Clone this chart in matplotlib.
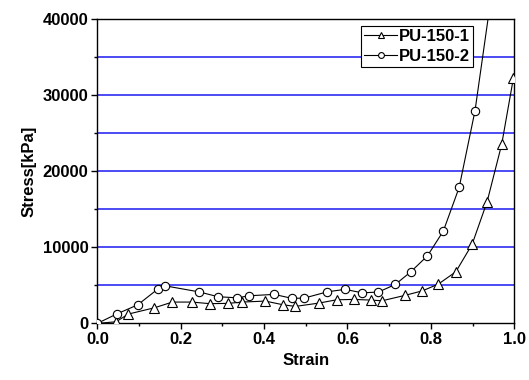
import matplotlib
matplotlib.use("Agg")
import matplotlib.pyplot as plt
from matplotlib.ticker import MultipleLocator

plt.rcParams['font.family'] = ['Liberation Sans', 'DejaVu Sans']
plt.rcParams['font.weight'] = 'bold'

strain1 = [0.0, 0.045, 0.074, 0.137, 0.18, 0.227, 0.27, 0.314, 0.347, 0.403, 0.446, 0.475,
           0.532, 0.574, 0.616, 0.656, 0.683, 0.738, 0.780, 0.818, 0.860, 0.899, 0.935, 0.970, 0.998]
stress1 = [0, 210, 1220, 2050, 2800, 2800, 2590, 2630, 2800, 2930, 2440, 2230,
           2670, 3100, 3150, 3060, 2970, 3680, 4280, 5160, 6780, 10380, 15980, 23520, 32190]

strain2 = [0.0, 0.046, 0.097, 0.145, 0.162, 0.243, 0.290, 0.335, 0.365, 0.424, 0.467, 0.496,
           0.552, 0.594, 0.635, 0.674, 0.715, 0.752, 0.792, 0.830, 0.868, 0.906, 0.945]
stress2 = [0, 1220, 2440, 4510, 4940, 4150, 3500, 3360, 3630, 3810, 3290, 3320,
           4150, 4470, 4020, 4110, 5120, 6780, 8880, 12130, 17870, 27940, 43000]

labels = ['PU-150-1', 'PU-150-2']
x_label = 'Strain'
y_label = 'Stress[kPa]'

fig = plt.figure(figsize=(5.29, 3.8), dpi=100)
ax = fig.add_axes([0.184, 0.149, 0.788, 0.801])

for yv in range(5000, 40000, 5000):
    ax.axhline(yv, color='#2c2cf2', lw=1.2, zorder=1)

ax.plot(strain1, stress1, color='black', lw=0.8, marker='^', ms=6.5, mfc='white',
        mec='black', mew=0.8, label=labels[0], zorder=3)
ax.plot(strain2, stress2, color='black', lw=0.8, marker='o', ms=6, mfc='white',
        mec='black', mew=0.8, label=labels[1], zorder=3)

ax.set_xlim(0, 1.0)
ax.set_ylim(0, 40000)
ax.xaxis.set_major_locator(MultipleLocator(0.2))
ax.xaxis.set_minor_locator(MultipleLocator(0.1))
ax.yaxis.set_major_locator(MultipleLocator(10000))
ax.yaxis.set_minor_locator(MultipleLocator(5000))
ax.xaxis.set_major_formatter(matplotlib.ticker.FormatStrFormatter('%.1f'))
ax.tick_params(which='both', direction='out', top=False, right=False, labelsize=12)
ax.tick_params(which='major', length=4, width=1, pad=2.5)
ax.tick_params(which='minor', length=2.5, width=1)
for s in ax.spines.values():
    s.set_linewidth(1.0)

ax.set_xlabel(x_label, fontsize=12, fontweight='bold', labelpad=4)
ax.set_ylabel(y_label, fontsize=12, fontweight='bold', labelpad=4)

leg = ax.legend(loc='upper right', bbox_to_anchor=(0.902, 0.978), fontsize=12,
                markerscale=0.7, handlelength=2.0, handletextpad=0.1,
                borderpad=0.2, labelspacing=0.3, fancybox=False, framealpha=1,
                edgecolor='black', borderaxespad=0.0)
leg.get_frame().set_linewidth(0.8)
for t in leg.get_texts():
    t.set_fontweight('bold')

fig.savefig('out.png', dpi=100)
